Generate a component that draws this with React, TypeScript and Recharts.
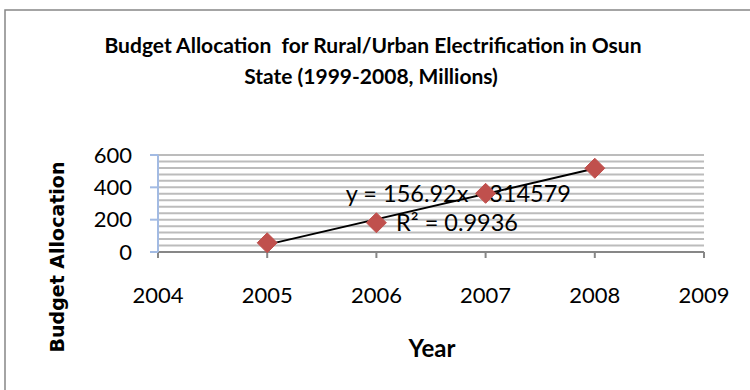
import React from "react";
import {
  ScatterChart,
  Scatter,
  XAxis,
  YAxis,
  ReferenceLine,
  ReferenceDot,
  Customized,
} from "recharts";

// Budget allocation per year (millions)
const years = [2005, 2006, 2007, 2008];
const allocations = [57, 181, 363, 518];

// Axis ticks
const xTicks = [2004, 2005, 2006, 2007, 2008, 2009];
const yTicks = [0, 200, 400, 600];
const gridValues = [0, 40, 80, 120, 160, 200, 240, 280, 320, 360, 400, 440, 480, 520, 560, 600];

// Linear trendline as reported on the chart
const trendSlope = 156.92;
const trendIntercept = -314579;
const trendLabel = "y = 156.92x - 314579";
const r2Label = "R\u00b2 = 0.9936";

const points = years.map((year, i) => ({ year, value: allocations[i] }));
const trendAt = (x: number) => trendSlope * x + trendIntercept;

const W = 750;
const H = 390;
const TICK_FONT = "Lato, 'Open Sans', sans-serif";
const MARKER = "#c0504d";

const Diamond = (props: any) => {
  const { cx, cy } = props;
  const r = 10;
  return (
    <polygon
      points={`${cx},${cy - r} ${cx + r},${cy} ${cx},${cy + r} ${cx - r},${cy}`}
      fill={MARKER}
      stroke={MARKER}
      strokeWidth={1}
    />
  );
};

const textAt = (text: string) => (props: any) => (
  <text
    x={props.cx}
    y={props.cy}
    fontFamily={TICK_FONT}
    fontSize={23.5}
    fill="#000"
    dominantBaseline="central"
  >
    {text}
  </text>
);

const Frame = () => (
  <g>
    <rect x={5} y={10} width={W + 10} height={H + 10} fill="none" stroke="#878787" strokeWidth={1.5} />
    <text x={373} y={44} textAnchor="middle" dominantBaseline="central" fontFamily={TICK_FONT} fontWeight="bold" fontSize={21}>
      Budget Allocation{"\u00a0\u00a0"}for Rural/Urban Electrification in Osun
    </text>
    <text x={371} y={75} textAnchor="middle" dominantBaseline="central" fontFamily={TICK_FONT} fontWeight="bold" fontSize={21}>
      State (1999-2008, Millions)
    </text>
    <text x={432} y={347} textAnchor="middle" dominantBaseline="central" fontFamily={TICK_FONT} fontWeight="bold" fontSize={24}>
      Year
    </text>
    <text
      x={57}
      y={257}
      textAnchor="middle"
      dominantBaseline="central"
      transform="rotate(-90 57 257)"
      fontFamily="'DejaVu Sans', Verdana, sans-serif"
      fontWeight="bold"
      fontSize={19}
    >
      Budget Allocation
    </text>
  </g>
);

export default function App() {
  return (
    <div style={{ position: "absolute", left: 0, top: 0, width: W, height: H, background: "#fff" }}>
      <ScatterChart width={W} height={H} margin={{ top: 155, right: 46, bottom: 0, left: 0 }}>
        <Customized component={Frame} />
        {gridValues.map((v) => (
          <ReferenceLine key={v} y={v} stroke="#bcbcbc" strokeWidth={2} />
        ))}
        <XAxis
          type="number"
          dataKey="year"
          domain={[2004, 2009]}
          ticks={xTicks}
          height={138}
          axisLine={{ stroke: "#878787", strokeWidth: 2 }}
          tickLine={{ stroke: "#878787", strokeWidth: 2 }}
          tickSize={6}
          tickMargin={29}
          tick={{ fill: "#000", fontSize: 22, fontFamily: TICK_FONT }}
          allowDecimals={false}
        />
        <YAxis
          type="number"
          dataKey="value"
          domain={[0, 600]}
          ticks={yTicks}
          width={158}
          axisLine={{ stroke: "#a3bbe3", strokeWidth: 2 }}
          tickLine={{ stroke: "#a3bbe3", strokeWidth: 2 }}
          tickSize={8}
          tickMargin={18}
          tick={{ fill: "#000", fontSize: 22, fontFamily: TICK_FONT }}
        />
        <ReferenceDot x={2005.72} y={365} r={0} shape={textAt(trendLabel)} />
        <ReferenceDot x={2006.18} y={183} r={0} shape={textAt(r2Label)} />
        <ReferenceLine
          segment={[
            { x: years[0], y: trendAt(years[0]) },
            { x: years[years.length - 1], y: trendAt(years[years.length - 1]) },
          ]}
          stroke="#000"
          strokeWidth={2}
        />
        <Scatter data={points} shape={<Diamond />} isAnimationActive={false} />
      </ScatterChart>
    </div>
  );
}
